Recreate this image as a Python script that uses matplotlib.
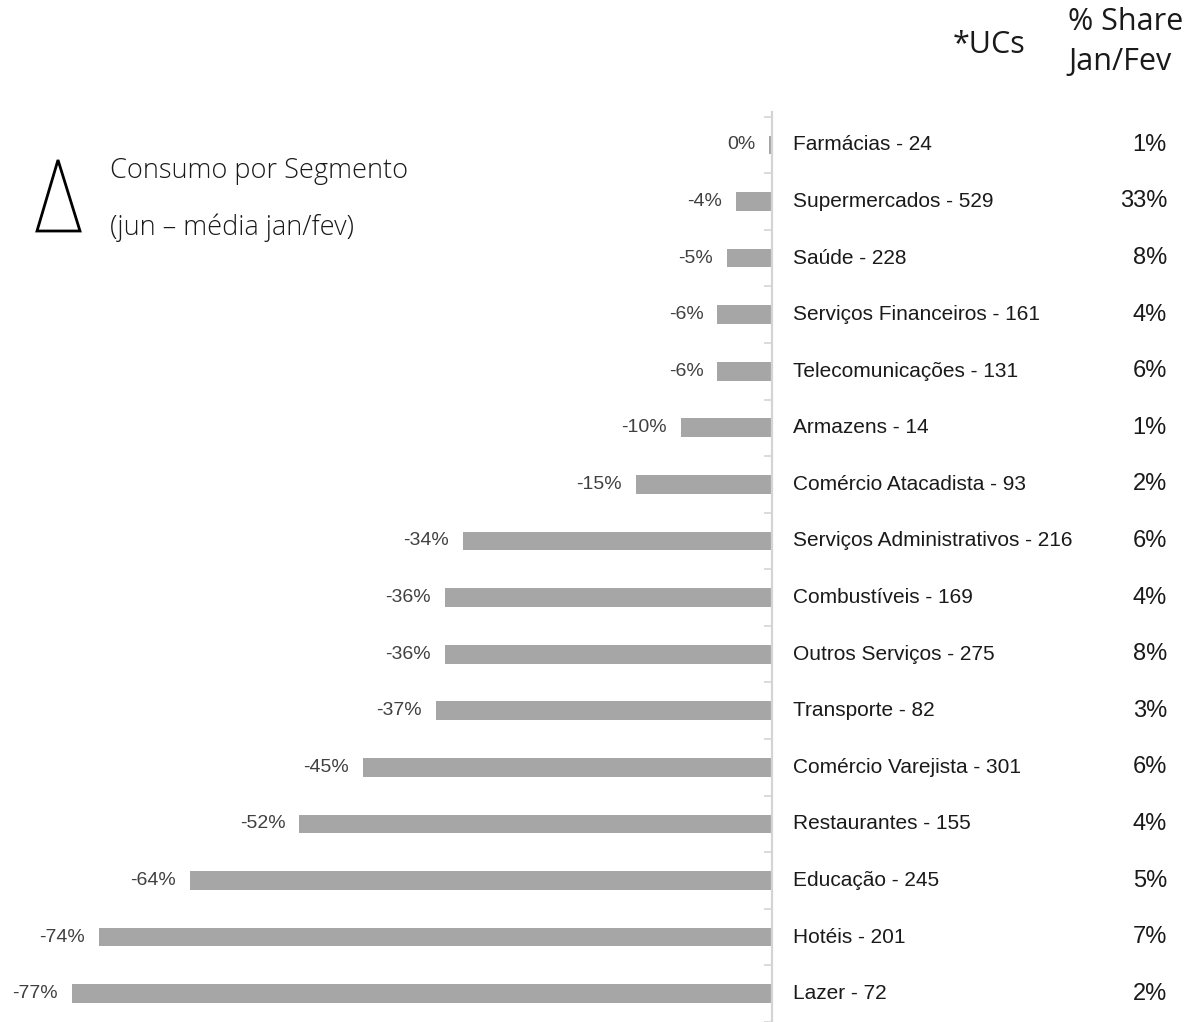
import matplotlib
matplotlib.use("Agg")
import matplotlib.pyplot as plt
from matplotlib.transforms import blended_transform_factory
from matplotlib.patches import Polygon
import numpy as np

categories = ["Farmácias - 24", "Supermercados - 529", "Saúde - 228",
              "Serviços Financeiros - 161", "Telecomunicações - 131",
              "Armazens - 14", "Comércio Atacadista - 93",
              "Serviços Administrativos - 216", "Combustíveis - 169",
              "Outros Serviços - 275", "Transporte - 82",
              "Comércio Varejista - 301", "Restaurantes - 155",
              "Educação - 245", "Hotéis - 201", "Lazer - 72"]
values = [-0.3, -4, -5, -6, -6, -10, -15, -34, -36, -36, -37, -45, -52, -64, -74, -77]
shares = ["1%", "33%", "8%", "4%", "6%", "1%", "2%", "6%", "4%", "8%",
          "3%", "6%", "4%", "5%", "7%", "2%"]

W, H = 1198, 1022
fig = plt.figure(figsize=(W / 100, H / 100), dpi=100)
ax_top_px = 112
ax = fig.add_axes([0, 0, 1, (H - ax_top_px) / H])

ppp = 9.09  # pixels per percent
zero_px = 772
ax.set_xlim(-zero_px / ppp, (W - zero_px) / ppp)
row_sp = 56.8
first_c = 145
ax.set_ylim((H - first_c) / row_sp, -(first_c - ax_top_px) / row_sp)

y = np.arange(len(categories))
ax.barh(y, values, height=0.33, color="#a6a6a6", zorder=2)

for sp in ["top", "right", "bottom"]:
    ax.spines[sp].set_visible(False)
ax.spines["left"].set_position(("data", 0))
ax.spines["left"].set_color("#d4d4d4")
ax.spines["left"].set_linewidth(1.6)
ax.set_xticks([])
ax.set_yticks([])
ax.set_yticks(np.arange(-0.5, len(categories) + 0.5, 1), minor=True)
ax.tick_params(axis="y", which="minor", direction="out", length=6,
               color="#d4d4d4", width=1.2, labelleft=False)

lab_font = "Liberation Sans"
blend = blended_transform_factory(ax.transAxes, ax.transData)
for i, v in enumerate(values):
    ax.text(v - 14 / ppp, i, f"{int(round(v))}%", ha="right", va="center",
            fontsize=14, color="#404040", family=lab_font)
    ax.text(21 / ppp, i, categories[i], ha="left", va="center",
            fontsize=15, color="#1a1a1a", family=lab_font)
    ax.text(1167 / W, i, shares[i], ha="right", va="center",
            fontsize=17, color="#1a1a1a", family=lab_font, transform=blend)

# Header texts
fig.text(989 / W, 1 - 45 / H, "*UCs", ha="center", va="center",
         fontsize=22, color="#1a1a1a", family="Open Sans")
fig.text(1068 / W, 1 - 22 / H, "% Share", ha="left", va="center",
         fontsize=22, color="#1a1a1a", family="Open Sans")
fig.text(1068 / W, 1 - 62 / H, "Jan/Fev", ha="left", va="center",
         fontsize=22, color="#1a1a1a", family="Open Sans")

# Title
fig.text(110 / W, 1 - 171 / H, "Consumo por Segmento", ha="left", va="center",
         fontsize=19.5, color="#1a1a1a", family="Open Sans", fontweight="light")
fig.text(110 / W, 1 - 228 / H, "(jun – média jan/fev)", ha="left", va="center",
         fontsize=19.5, color="#1a1a1a", family="Open Sans", fontweight="light")

# Delta triangle
tri = Polygon([(37 / W, 1 - 231 / H), (80 / W, 1 - 231 / H), (58 / W, 1 - 160 / H)],
              closed=True, fill=False, edgecolor="black", linewidth=2,
              transform=fig.transFigure)
fig.patches.append(tri)

fig.savefig("out.png", dpi=100)
